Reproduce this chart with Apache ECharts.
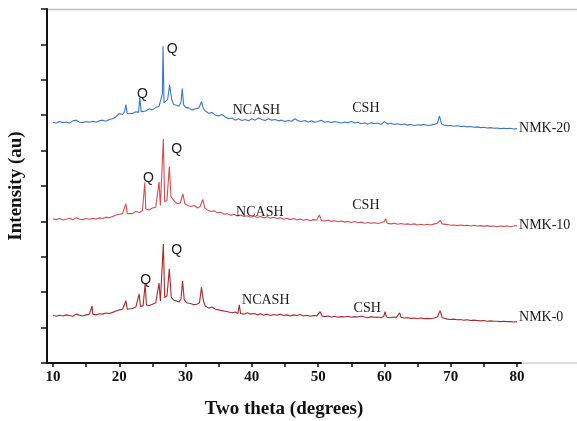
<!DOCTYPE html>
<html>
<head>
<meta charset="utf-8">
<script src="https://cdn.jsdelivr.net/npm/echarts@6/dist/echarts.min.js"></script>
<style>
  html, body { margin: 0; padding: 0; background: #fff; }
  #chart { width: 577px; height: 421px; }
</style>
</head>
<body>
<div id="chart"></div>
<script>
// two theta (deg), intensity (offset, arbitrary units)
const nmk20 = [[10,6.80],[10.5,6.78],[11,6.82],[11.5,6.79],[12,6.81],[12.5,6.78],[13,6.84],[13.5,6.86],[14,6.80],[14.5,6.79],[15,6.82],[15.5,6.80],[16,6.83],[16.5,6.80],[17,6.84],[17.5,6.86],[18,6.83],[18.5,6.88],[19,6.90],[19.5,6.95],[20,7.05],[20.5,7.02],[20.8,7.10],[21.0,7.30],[21.2,7.05],[21.5,7.08],[22,7.05],[22.5,7.10],[22.9,7.08],[23.1,7.50],[23.3,7.10],[23.6,7.05],[24,7.12],[24.5,7.18],[25,7.15],[25.5,7.22],[26,7.25],[26.3,7.30],[26.5,7.6],[26.6,8.95],[26.75,7.35],[27,7.3],[27.3,7.45],[27.6,7.85],[27.9,7.45],[28.2,7.3],[28.6,7.28],[29,7.25],[29.3,7.35],[29.5,7.75],[29.7,7.3],[30,7.22],[30.5,7.2],[31,7.15],[31.5,7.18],[32,7.2],[32.4,7.38],[32.7,7.18],[33,7.12],[33.5,7.05],[34,7.08],[34.5,7.0],[35,6.98],[35.5,7.02],[36,6.95],[36.5,6.9],[37,6.92],[37.5,6.86],[38,6.9],[38.5,6.85],[39,6.88],[39.5,6.84],[40,6.9],[40.5,6.86],[41,6.92],[41.5,6.88],[42,6.85],[42.5,6.9],[43,6.86],[43.5,6.88],[44,6.84],[44.5,6.86],[45,6.82],[45.5,6.85],[46,6.83],[46.5,6.9],[47,6.84],[47.5,6.82],[48,6.85],[48.5,6.81],[49,6.84],[49.5,6.8],[50,6.83],[50.5,6.86],[51,6.8],[51.5,6.82],[52,6.79],[52.5,6.82],[53,6.8],[53.5,6.78],[54,6.81],[54.5,6.79],[55,6.82],[55.5,6.78],[56,6.80],[56.5,6.76],[57,6.78],[57.5,6.75],[58,6.79],[58.5,6.76],[59,6.78],[59.5,6.74],[60,6.82],[60.5,6.75],[61,6.77],[61.5,6.74],[62,6.76],[62.5,6.73],[63,6.75],[63.5,6.72],[64,6.74],[64.5,6.71],[65,6.73],[65.5,6.72],[66,6.74],[66.5,6.71],[67,6.72],[67.5,6.74],[68,6.78],[68.3,6.98],[68.6,6.76],[69,6.72],[69.5,6.70],[70,6.71],[70.5,6.69],[71,6.70],[71.5,6.68],[72,6.69],[72.5,6.67],[73,6.68],[73.5,6.66],[74,6.67],[74.5,6.65],[75,6.66],[75.5,6.64],[76,6.65],[76.5,6.63],[77,6.64],[77.5,6.62],[78,6.63],[78.5,6.62],[79,6.63],[79.5,6.61],[80,6.62]];

const nmk10 = [[10,4.07],[10.5,4.05],[11,4.08],[11.5,4.04],[12,4.06],[12.5,4.09],[13,4.05],[13.5,4.10],[14,4.06],[14.5,4.05],[15,4.08],[15.5,4.06],[16,4.09],[16.5,4.07],[17,4.10],[17.5,4.08],[18,4.12],[18.5,4.10],[19,4.14],[19.5,4.18],[20,4.20],[20.5,4.22],[20.8,4.25],[21.0,4.50],[21.2,4.22],[21.5,4.25],[22,4.22],[22.5,4.28],[23,4.25],[23.5,4.30],[23.7,4.35],[23.85,5.10],[24.0,4.35],[24.5,4.32],[25,4.38],[25.5,4.40],[25.8,4.45],[26.0,5.12],[26.2,4.45],[26.45,4.5],[26.65,6.33],[26.85,4.55],[27.2,4.6],[27.55,5.55],[27.8,4.7],[28.1,4.72],[28.4,4.55],[28.8,4.5],[29.2,4.52],[29.6,4.78],[29.9,4.5],[30.3,4.45],[30.8,4.42],[31.3,4.45],[31.8,4.38],[32.2,4.42],[32.6,4.62],[32.9,4.38],[33.3,4.32],[33.8,4.28],[34.3,4.3],[34.8,4.24],[35.3,4.26],[35.8,4.2],[36.3,4.22],[36.8,4.17],[37.3,4.2],[37.8,4.15],[38.3,4.18],[38.8,4.14],[39.3,4.16],[39.8,4.12],[40.3,4.15],[40.8,4.11],[41.3,4.14],[41.8,4.1],[42.3,4.13],[42.8,4.09],[43.3,4.12],[43.8,4.08],[44.3,4.1],[44.8,4.06],[45.3,4.09],[45.8,4.05],[46.3,4.08],[46.8,4.04],[47.3,4.07],[47.8,4.03],[48.3,4.06],[48.8,4.02],[49.3,4.05],[49.8,4.04],[50.2,4.18],[50.5,4.03],[51,4.01],[51.5,4.04],[52,4.0],[52.5,4.02],[53,3.99],[53.5,4.01],[54,3.98],[54.5,4.0],[55,3.97],[55.5,4.0],[56,3.96],[56.5,3.98],[57,3.95],[57.5,3.97],[58,3.95],[58.5,3.96],[59,3.94],[59.5,3.96],[60,4.0],[60.2,4.08],[60.4,3.95],[61,3.93],[61.5,3.95],[62,3.92],[62.5,3.94],[63,3.92],[63.5,3.93],[64,3.91],[64.5,3.93],[65,3.9],[65.5,3.92],[66,3.9],[66.5,3.92],[67,3.9],[67.5,3.93],[68,3.95],[68.4,4.03],[68.7,3.93],[69,3.9],[69.5,3.91],[70,3.89],[70.5,3.9],[71,3.88],[71.5,3.9],[72,3.88],[72.5,3.89],[73,3.87],[73.5,3.89],[74,3.87],[74.5,3.88],[75,3.86],[75.5,3.88],[76,3.86],[76.5,3.87],[77,3.85],[77.5,3.87],[78,3.86],[78.5,3.87],[79,3.85],[79.5,3.87],[80,3.88]];

const nmk0 = [[10,1.34],[10.5,1.32],[11,1.35],[11.5,1.33],[12,1.36],[12.5,1.34],[13,1.32],[13.5,1.38],[14,1.35],[14.5,1.33],[15,1.36],[15.5,1.38],[15.8,1.37],[15.9,1.61],[16.0,1.38],[16.5,1.36],[17,1.39],[17.5,1.38],[18,1.41],[18.5,1.40],[19,1.43],[19.5,1.47],[20,1.50],[20.5,1.52],[20.8,1.55],[21.0,1.76],[21.2,1.52],[21.5,1.56],[22,1.54],[22.5,1.58],[22.8,1.6],[23.0,1.95],[23.2,1.6],[23.6,1.62],[23.9,2.23],[24.1,1.64],[24.5,1.62],[25,1.66],[25.5,1.7],[25.8,1.72],[26.0,2.26],[26.2,1.75],[26.45,1.8],[26.65,3.36],[26.85,1.85],[27.2,1.9],[27.55,2.66],[27.85,1.85],[28.2,1.78],[28.6,1.75],[29,1.72],[29.3,1.8],[29.55,2.32],[29.8,1.78],[30.2,1.7],[30.7,1.68],[31.2,1.65],[31.7,1.66],[32.1,1.7],[32.4,2.14],[32.7,1.75],[33,1.6],[33.5,1.55],[34,1.58],[34.5,1.52],[35,1.5],[35.5,1.48],[36,1.46],[36.5,1.44],[37,1.42],[37.5,1.44],[37.9,1.4],[38.1,1.64],[38.3,1.4],[38.8,1.38],[39.3,1.42],[39.8,1.38],[40.3,1.4],[40.8,1.36],[41.3,1.39],[41.8,1.35],[42.3,1.38],[42.8,1.34],[43.3,1.37],[43.8,1.35],[44.3,1.38],[44.8,1.34],[45.3,1.36],[45.8,1.33],[46.3,1.36],[46.8,1.34],[47.3,1.37],[47.8,1.33],[48.3,1.35],[48.8,1.32],[49.3,1.34],[49.8,1.33],[50.3,1.45],[50.6,1.33],[51,1.31],[51.5,1.33],[52,1.30],[52.5,1.32],[53,1.29],[53.5,1.31],[54,1.30],[54.5,1.32],[55,1.29],[55.5,1.31],[56,1.30],[56.5,1.33],[57,1.30],[57.5,1.28],[58,1.31],[58.5,1.29],[59,1.30],[59.5,1.28],[59.9,1.32],[60.1,1.45],[60.3,1.30],[60.8,1.28],[61.3,1.30],[61.8,1.29],[62.1,1.31],[62.3,1.42],[62.5,1.29],[63,1.27],[63.5,1.28],[64,1.26],[64.5,1.27],[65,1.25],[65.5,1.27],[66,1.25],[66.5,1.26],[67,1.25],[67.5,1.27],[68,1.3],[68.4,1.48],[68.7,1.28],[69,1.25],[69.5,1.24],[70,1.23],[70.5,1.24],[71,1.22],[71.5,1.23],[72,1.21],[72.5,1.22],[73,1.2],[73.5,1.21],[74,1.2],[74.5,1.19],[75,1.2],[75.5,1.18],[76,1.19],[76.5,1.18],[77,1.18],[77.5,1.17],[78,1.18],[78.5,1.17],[79,1.17],[79.5,1.16],[80,1.17]];

const xTicks = [10, 15, 20, 25, 30, 35, 40, 45, 50, 55, 60, 65, 70, 75, 80]
const xLabels = [10, 20, 30, 40, 50, 60, 70, 80]

// phase labels: [text, two theta, intensity]
const notes20 = [['Q', 28.0, 8.87], ['Q', 23.5, 7.6], ['NCASH', 40.7, 7.13], ['CSH', 57.2, 7.19]]
const notes10 = [['Q', 28.66, 6.05], ['Q', 24.4, 5.22], ['NCASH', 41.2, 4.26], ['CSH', 57.2, 4.44]]
const notes0 = [['Q', 28.66, 3.2], ['Q', 24.0, 2.34], ['NCASH', 42.1, 1.76], ['CSH', 57.4, 1.55]]

const serif = '"Liberation Serif", "Times New Roman", serif'
const sans = '"Liberation Sans", Arial, sans-serif'

function marks (notes) {
  return {
    symbol: 'circle',
    symbolSize: 0,
    silent: true,
    data: notes.map(n => ({
      name: n[0],
      coord: [n[1], n[2]],
      label: {
        show: true,
        position: 'inside',
        formatter: n[0],
        color: '#1a1a1a',
        fontSize: 14,
        fontFamily: n[0] === 'Q' ? sans : serif
      }
    }))
  }
}

function makeSeries (name, data, color, notes, offsetY) {
  return {
    name: name,
    type: 'line',
    data: data,
    symbol: 'none',
    lineStyle: { color: color, width: 1.1 },
    itemStyle: { color: color },
    endLabel: {
      show: true,
      formatter: '{a}',
      distance: 2,
      offset: [0, offsetY],
      color: '#1a1a1a',
      fontSize: 14,
      fontFamily: serif
    },
    markPoint: marks(notes)
  }
}

const chart = echarts.init(document.getElementById('chart'), null, { renderer: 'canvas' })

const option = {
  animation: false,
  backgroundColor: '#fff',
  grid: { left: 47, right: 56, top: 9, bottom: 58, outerBoundsMode: 'none', containLabel: false },
  xAxis: {
    type: 'value',
    min: 9.1,
    max: 80.6,
    name: 'Two theta (degrees)',
    nameLocation: 'middle',
    nameGap: 37,
    nameTextStyle: { fontFamily: serif, fontWeight: 'bold', fontSize: 19, color: '#111' },
    axisLine: { show: true, lineStyle: { color: '#111', width: 2 } },
    axisTick: { show: true, inside: false, length: 4, customValues: xTicks, lineStyle: { color: '#111', width: 1.5 } },
    axisLabel: { customValues: xLabels, margin: 7, fontFamily: serif, fontWeight: 'bold', fontSize: 15, color: '#111' },
    splitLine: { show: false }
  },
  yAxis: {
    type: 'value',
    min: 0,
    max: 10,
    interval: 1,
    name: 'Intensity (au)',
    nameLocation: 'middle',
    nameGap: 21,
    nameTextStyle: { fontFamily: serif, fontWeight: 'bold', fontSize: 19, color: '#111' },
    axisLine: { show: true, lineStyle: { color: '#111', width: 2 } },
    axisTick: { show: true, inside: false, length: 6, lineStyle: { color: '#111', width: 1.5 } },
    axisLabel: { show: false },
    splitLine: { show: false }
  },
  graphic: [
    { type: 'line', shape: { x1: 48, y1: 9.5, x2: 577, y2: 9.5 }, style: { stroke: '#bdbdbd', lineWidth: 1.5 }, silent: true },
    { type: 'line', shape: { x1: 522, y1: 363, x2: 577, y2: 363 }, style: { stroke: '#d0d0d0', lineWidth: 1.5 }, silent: true }
  ],
  series: [
    makeSeries('NMK-20', nmk20, '#3b78c2', notes20, 0),
    makeSeries('NMK-10', nmk10, '#d14f52', notes10, 0),
    makeSeries('NMK-0', nmk0, '#a52b2e', notes0, -4)
  ]
}

chart.setOption(option)
</script>
</body>
</html>
